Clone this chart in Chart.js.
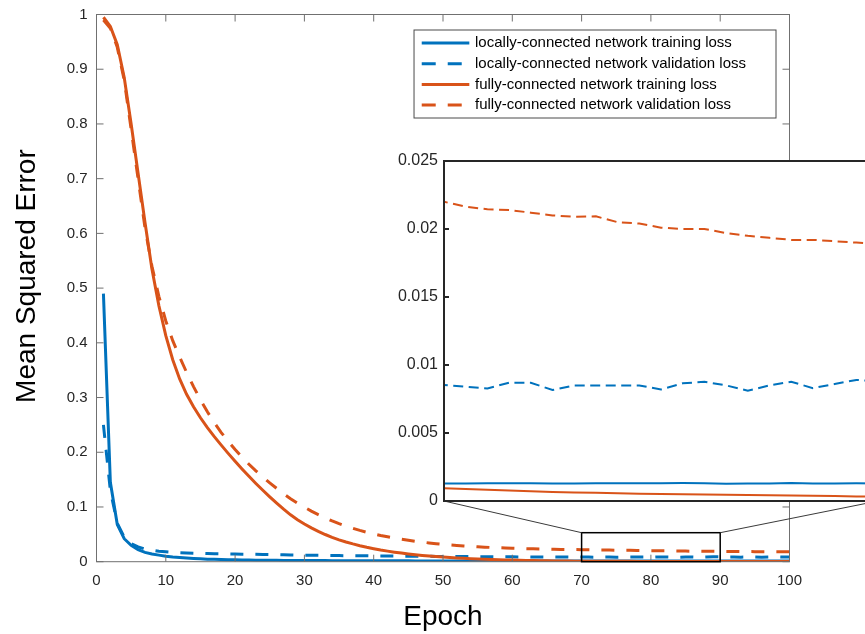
<!DOCTYPE html>
<html><head><meta charset="utf-8">
<script src="https://cdn.jsdelivr.net/npm/chart.js@4.4.1/dist/chart.umd.min.js"></script>
<style>
html,body{margin:0;padding:0;background:#fff;overflow:hidden;width:865px;height:634px;}
#wrap{position:relative;width:865px;height:634px;overflow:hidden;}
#main{position:absolute;left:0;top:0;}
#inset{position:absolute;left:390px;top:150px;}
</style></head><body>
<div id="wrap">
<canvas id="main" width="865" height="634"></canvas>
<canvas id="inset" width="500" height="362"></canvas>
</div>
<script>
// ---------------- data ----------------
const epochs = [1,2,3,4,5,6,7,8,9,10,11,12,13,14,15,16,17,18,19,20,21,22,23,24,25,26,27,28,29,30,31,32,33,34,35,36,37,38,39,40,41,42,43,44,45,46,47,48,49,50,51,52,53,54,55,56,57,58,59,60,61,62,63,64,65,66,67,68,69,70,71,72,73,74,75,76,77,78,79,80,81,82,83,84,85,86,87,88,89,90,91,92,93,94,95,96,97,98,99,100];

const seriesLabels = [
  'locally-connected network training loss',
  'locally-connected network validation loss',
  'fully-connected network training loss',
  'fully-connected network validation loss'
];

const localTrain = [0.49,0.145,0.068,0.042,0.030,0.022,0.017,0.014,0.012,0.010,
 0.0085,0.0075,0.0066,0.0058,0.0052,0.0047,0.0043,0.0040,0.0037,0.0034,
 0.0032,0.0030,0.0028,0.0027,0.0026,0.0025,0.0024,0.0023,0.0022,0.0021,
 0.0021,0.0020,0.0020,0.0019,0.0019,0.0018,0.0018,0.0018,0.0017,0.0017,
 0.0017,0.0016,0.0016,0.0016,0.0016,0.0015,0.0015,0.0015,0.0015,0.0015,
 0.0014,0.0014,0.0014,0.0014,0.0014,0.0014,0.0014,0.00135,0.00135,0.00133,
 0.00133,0.00132,0.00132,0.00131,0.00131,0.0013,0.0013,0.0013,0.0013,
 0.00129,0.00128,0.00130,0.00131,0.00130,0.00128,0.00128,0.00130,0.00131,0.00131,
 0.00131,0.00132,0.00131,0.00126,0.00128,0.00129,0.00132,0.00128,0.00129,0.00130,
 0.00129,0.00130,0.00128,0.00129,0.00131,0.00129,0.00128,0.00130,0.00131,0.00129,0.00128];

const localVal = [0.25,0.13,0.07,0.045,0.033,0.027,0.023,0.021,0.019,0.018,
 0.017,0.0165,0.016,0.0155,0.015,0.0148,0.0146,0.0144,0.0142,0.014,
 0.0138,0.0136,0.0134,0.0132,0.013,0.0128,0.0126,0.0124,0.0122,0.012,
 0.0118,0.0116,0.0115,0.0113,0.0112,0.011,0.0109,0.0108,0.0107,0.0106,
 0.0105,0.0104,0.0103,0.0102,0.0101,0.0100,0.0099,0.0098,0.0097,0.0096,
 0.0095,0.0094,0.0094,0.0093,0.0092,0.0091,0.0091,0.0090,0.0090,0.0089,
 0.0088,0.0089,0.0087,0.0088,0.0086,0.0087,0.0085,0.0087,0.0086,
 0.00853,0.0084,0.00828,0.0087,0.0087,0.00816,0.0085,0.0085,0.0085,0.0085,
 0.0082,0.00865,0.00877,0.0085,0.00811,0.0085,0.00877,0.0083,0.0086,0.0089,
 0.0088,0.0084,0.0087,0.0083,0.0086,0.0088,0.0082,0.0086,0.0087,0.0084,0.0086];

const fullTrain = [0.995,0.978,0.945,0.885,0.80,0.71,0.62,0.535,0.468,0.413,
 0.369,0.334,0.306,0.283,0.263,0.245,0.2285,0.213,0.198,0.1835,
 0.1695,0.156,0.143,0.1305,0.1185,0.107,0.096,0.0857,0.0768,0.0689,
 0.0618,0.0554,0.0497,0.0446,0.040,0.036,0.0325,0.0293,0.0264,0.0238,
 0.0214,0.0193,0.0174,0.0157,0.0141,0.0127,0.0115,0.0103,0.0093,0.0084,
 0.0076,0.0068,0.0061,0.0055,0.0050,0.0045,0.0040,0.0036,0.0033,0.0030,
 0.0027,0.0024,0.0022,0.0019,0.0017,0.0015,0.0013,0.0011,0.0010,
 0.00093,0.00088,0.00083,0.00078,0.00072,0.00067,0.00063,0.00060,0.00057,0.00054,
 0.00052,0.00050,0.00048,0.00046,0.00044,0.00042,0.00040,0.00038,0.00036,0.00034,
 0.00033,0.00032,0.00031,0.00030,0.00029,0.00028,0.00027,0.00026,0.00025,0.00024,0.00023];

const fullVal = [0.99,0.975,0.94,0.88,0.79,0.70,0.61,0.54,0.485,0.44,
 0.404,0.374,0.346,0.32,0.296,0.274,0.254,0.236,0.22,0.205,
 0.191,0.178,0.166,0.155,0.144,0.134,0.124,0.115,0.107,0.0995,
 0.0925,0.086,0.080,0.0745,0.0695,0.065,0.061,0.0572,0.0538,0.0508,
 0.048,0.0455,0.0432,0.0411,0.0392,0.0374,0.0358,0.0343,0.033,0.0318,
 0.0307,0.0297,0.0288,0.028,0.0273,0.0266,0.026,0.0255,0.025,0.0246,
 0.0242,0.0238,0.0235,0.0232,0.0229,0.0227,0.0225,0.0223,0.0221,
 0.0220,0.02164,0.02145,0.0214,0.0212,0.0210,0.0209,0.02093,0.0205,0.0204,
 0.0201,0.0200,0.0200,0.0197,0.0195,0.01935,0.0192,0.0192,0.0191,0.0190,
 0.0189,0.0188,0.0187,0.0186,0.0185,0.0184,0.0183,0.0182,0.0181,0.0180,0.0180];

const xTickVals = [0,10,20,30,40,50,60,70,80,90,100];
const xTickLabels = ['0','10','20','30','40','50','60','70','80','90','100'];
const yTickVals = [0,0.1,0.2,0.3,0.4,0.5,0.6,0.7,0.8,0.9,1];
const yTickLabels = ['0','0.1','0.2','0.3','0.4','0.5','0.6','0.7','0.8','0.9','1'];
const insetYTickVals = [0,0.005,0.01,0.015,0.02,0.025];
const insetYTickLabels = ['0','0.005','0.01','0.015','0.02','0.025'];
const xTitle = 'Epoch';
const yTitle = 'Mean Squared Error';
const zoomRange = {x0: 70, x1: 90, y0: 0, y1: 0.053};
const insetRange = {x0: 70, x1: 90, y0: 0, y1: 0.025};

// ---------------- style ----------------
const FONT = "'Liberation Sans', Arial, Helvetica, sans-serif";
const BLUE = '#0072BD';
const ORANGE = '#D95319';
const seriesColors = [BLUE, BLUE, ORANGE, ORANGE];
const seriesDashed = [false, true, false, true];
const seriesValues = [localTrain, localVal, fullTrain, fullVal];

function pts(vals) { return epochs.map((e, i) => ({x: e, y: vals[i]})); }

function makeDatasets(lineWidth, dash) {
  return seriesValues.map((vals, i) => ({
    label: seriesLabels[i],
    data: pts(vals),
    borderColor: seriesColors[i],
    backgroundColor: seriesColors[i],
    borderWidth: lineWidth,
    borderDash: seriesDashed[i] ? dash : [],
    pointRadius: 0,
    tension: 0,
    fill: false,
    order: 4 - i
  }));
}

function noPad(s) { s.paddingTop = 0; s.paddingBottom = 0; }

// ---------------- inset chart ----------------
const insetPlugin = {
  id: 'insetFrame',
  beforeDatasetsDraw(chart) {
    const {ctx, chartArea: a} = chart;
    ctx.save();
    ctx.fillStyle = '#fff';
    ctx.fillRect(a.left, a.top, a.right - a.left, a.bottom - a.top);
    ctx.restore();
  },
  afterDatasetsDraw(chart) {
    const {ctx, chartArea: a, scales} = chart;
    ctx.save();
    ctx.strokeStyle = '#262626';
    ctx.lineWidth = 2;
    ctx.strokeRect(a.left, a.top, a.right - a.left, a.bottom - a.top);
    ctx.beginPath();
    insetYTickVals.forEach(v => {
      const y = scales.y.getPixelForValue(v);
      ctx.moveTo(a.left, y); ctx.lineTo(a.left + 5, y);
    });
    ctx.stroke();
    ctx.restore();
  }
};

const insetChart = new Chart(document.getElementById('inset'), {
  type: 'line',
  data: { datasets: makeDatasets(2, [10, 5.5]) },
  options: {
    responsive: false, animation: false, events: [],
    layout: { padding: { left: 0, top: 11, right: 12, bottom: 11 } },
    plugins: { legend: {display: false}, tooltip: {enabled: false} },
    scales: {
      x: { type: 'linear', min: insetRange.x0, max: insetRange.x1, display: false },
      y: { type: 'linear', min: insetRange.y0, max: insetRange.y1,
           grid: {display: false, drawTicks: false}, border: {display: false},
           afterBuildTicks: s => { s.ticks = insetYTickVals.map(v => ({value: v})); },
           afterFit: s => { s.width = 54; noPad(s); },
           ticks: { autoSkip: false, padding: 6, color: '#262626',
                    font: {family: FONT, size: 16},
                    callback: (v, i) => insetYTickLabels[i] } }
    }
  },
  plugins: [insetPlugin]
});

// ---------------- main chart ----------------
const mainPlugin = {
  id: 'mainFrame',
  afterDatasetsDraw(chart) {
    const {ctx, chartArea: a, scales} = chart;
    const xs = scales.x, ys = scales.y;
    ctx.save();
    // box and inward ticks
    ctx.strokeStyle = '#707070';
    ctx.lineWidth = 1;
    ctx.strokeRect(a.left, a.top, a.right - a.left, a.bottom - a.top);
    ctx.beginPath();
    xTickVals.forEach(v => {
      const x = xs.getPixelForValue(v);
      ctx.moveTo(x, a.bottom); ctx.lineTo(x, a.bottom - 7);
      ctx.moveTo(x, a.top); ctx.lineTo(x, a.top + 7);
    });
    yTickVals.forEach(v => {
      const y = ys.getPixelForValue(v);
      ctx.moveTo(a.left, y); ctx.lineTo(a.left + 7, y);
      ctx.moveTo(a.right, y); ctx.lineTo(a.right - 7, y);
    });
    ctx.stroke();

    // zoom rectangle
    const rx0 = xs.getPixelForValue(zoomRange.x0), rx1 = xs.getPixelForValue(zoomRange.x1);
    const ry0 = ys.getPixelForValue(zoomRange.y0), ry1 = ys.getPixelForValue(zoomRange.y1);
    ctx.strokeStyle = '#000';
    ctx.lineWidth = 1.5;
    ctx.strokeRect(rx0, ry1, rx1 - rx0, ry0 - ry1);

    // connector lines to inset
    const ic = insetChart, cv = ic.canvas;
    const ia = ic.chartArea;
    const ibl = {x: cv.offsetLeft + ia.left, y: cv.offsetTop + ia.bottom};
    const ibr = {x: cv.offsetLeft + ia.right, y: cv.offsetTop + ia.bottom};
    ctx.strokeStyle = '#3a3a3a';
    ctx.lineWidth = 1;
    ctx.beginPath();
    ctx.moveTo(rx0, ry1); ctx.lineTo(ibl.x, ibl.y);
    ctx.moveTo(rx1, ry1); ctx.lineTo(ibr.x, ibr.y);
    ctx.stroke();

    // legend
    ctx.font = '15px ' + FONT;
    let maxW = 0;
    seriesLabels.forEach(t => { maxW = Math.max(maxW, ctx.measureText(t).width); });
    const bw = 61 + maxW + 30, bh = 88;
    const bx = a.right - 13.5 - bw, by = a.top + 15.5;
    ctx.fillStyle = '#fff';
    ctx.fillRect(bx, by, bw, bh);
    ctx.strokeStyle = '#4a4a4a';
    ctx.lineWidth = 1;
    ctx.strokeRect(bx, by, bw, bh);
    seriesLabels.forEach((t, i) => {
      const cy = by + 13 + i * 20.7;
      ctx.strokeStyle = seriesColors[i];
      ctx.lineWidth = 3;
      ctx.setLineDash(seriesDashed[i] ? [14, 12] : []);
      ctx.beginPath();
      ctx.moveTo(bx + 7.7, cy); ctx.lineTo(bx + 55.3, cy);
      ctx.stroke();
      ctx.setLineDash([]);
      ctx.fillStyle = '#000';
      ctx.textBaseline = 'middle';
      ctx.textAlign = 'left';
      ctx.fillText(t, bx + 61, cy);
    });

    // y axis title
    ctx.translate(27, (a.top + a.bottom) / 2 - 12);
    ctx.rotate(-Math.PI / 2);
    ctx.font = '28px ' + FONT;
    ctx.fillStyle = '#000';
    ctx.textAlign = 'center';
    ctx.textBaseline = 'middle';
    ctx.fillText(yTitle, 0, 0);
    ctx.restore();
  }
};

const mainChart = new Chart(document.getElementById('main'), {
  type: 'line',
  data: { datasets: makeDatasets(3, [13, 12]) },
  options: {
    responsive: false, animation: false, events: [],
    layout: { padding: { left: 0, top: 14.5, right: 75.5, bottom: 0 } },
    plugins: { legend: {display: false}, tooltip: {enabled: false} },
    scales: {
      x: { type: 'linear', min: 0, max: 100,
           grid: {display: false, drawTicks: false}, border: {display: false},
           afterBuildTicks: s => { s.ticks = xTickVals.map(v => ({value: v})); },
           afterFit: s => { s.height = 72.3; },
           ticks: { autoSkip: false, maxRotation: 0, padding: 10, color: '#262626',
                    font: {family: FONT, size: 15},
                    callback: (v, i) => xTickLabels[i] },
           title: { display: true, text: xTitle, color: '#000',
                    font: {family: FONT, size: 28}, padding: {top: 0, bottom: 0} } },
      y: { type: 'linear', min: 0, max: 1,
           grid: {display: false, drawTicks: false}, border: {display: false},
           afterBuildTicks: s => { s.ticks = yTickVals.map(v => ({value: v})); },
           afterFit: s => { s.width = 96.5; noPad(s); },
           ticks: { autoSkip: false, padding: 9, color: '#262626',
                    font: {family: FONT, size: 15},
                    callback: (v, i) => yTickLabels[i] } }
    }
  },
  plugins: [mainPlugin]
});
</script>
</body></html>
